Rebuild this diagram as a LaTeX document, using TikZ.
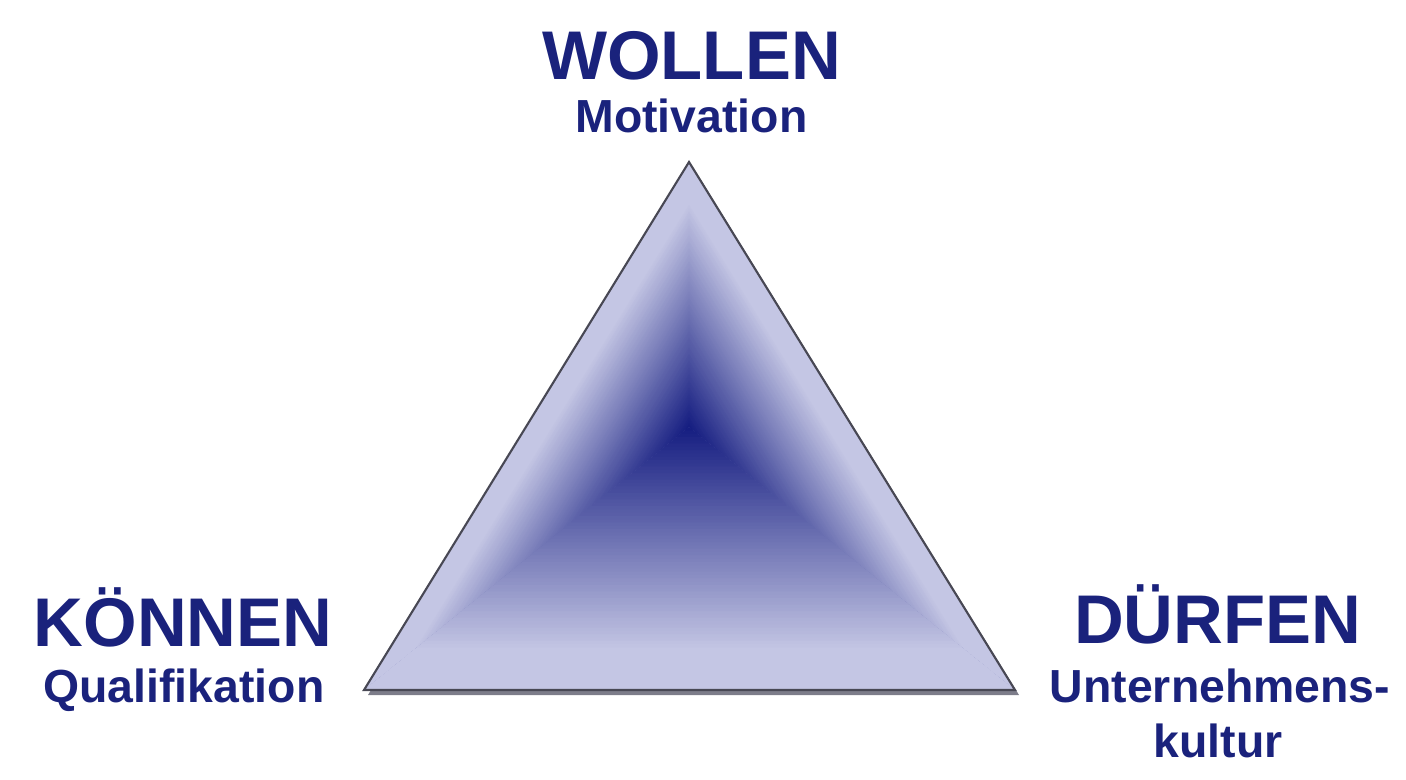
\documentclass[tikz,border=0pt]{standalone}
\usepackage{fontspec}
\setmainfont{Liberation Sans}
\usetikzlibrary{calc}

\definecolor{ink}{RGB}{26,34,124}
\definecolor{pale}{RGB}{196,198,228}
\definecolor{deep}{RGB}{20,28,128}
\definecolor{rim}{RGB}{72,72,84}
\definecolor{dropshade}{RGB}{125,125,138}

% one face of the pyramid: outer corners #1, #2, centre #3,
% filled in thin bands that darken towards the centre
\newcommand\facefill[3]{%
  \foreach \i in {0,...,79}{%
    \pgfmathsetmacro\sa{\i/80}%
    \pgfmathsetmacro\sb{min(1,(\i+1.5)/80)}%
    \pgfmathtruncatemacro\mix{100*max(0,min(1,((\i+0.5)/80-0.15)/0.85))}%
    \fill[deep!\mix!pale] ($(#1)!\sa!(#3)$) -- ($(#2)!\sa!(#3)$)
      -- ($(#2)!\sb!(#3)$) -- ($(#1)!\sb!(#3)$) -- cycle;
  }}

\begin{document}
\begin{tikzpicture}[
    title/.style={text=ink, font=\fontsize{19.6}{23}\selectfont\bfseries,
        anchor=base, inner sep=0pt},
    subtitle/.style={text=ink, font=\fontsize{13.2}{16}\selectfont\bfseries,
        anchor=base, inner sep=0pt},
    ]
    \useasboundingbox (0,0) rectangle (14.06,7.79);

    \coordinate (top) at (6.89,6.17);
    \coordinate (left) at (3.64,0.89);
    \coordinate (right) at (10.15,0.89);
    \coordinate (core) at (6.89,3.52);

    % shadow and base colour
    \fill[dropshade] ($(top)+(0.04,-0.05)$) -- ($(left)+(0.04,-0.05)$)
        -- ($(right)+(0.04,-0.05)$) -- cycle;
    \fill[pale!45!deep] (top) -- (left) -- (right) -- cycle;

    % the three faces
    \facefill{left}{top}{core}
    \facefill{top}{right}{core}
    \facefill{left}{right}{core}

    \draw[rim, line width=0.6pt] (top) -- (left) -- (right) -- cycle;

    % labels at the corners
    \node[title] (wollen) at (6.915,6.99) {WOLLEN};
    \node[subtitle] (motivation) at (6.915,6.46) {Motivation};

    \node[title] (koennen) at (1.83,1.33) {KÖNNEN};
    \node[subtitle] (quali) at (1.84,0.77) {Qualifikation};

    \node[title] (duerfen) at (12.175,1.36) {DÜRFEN};
    \node[subtitle] (kultur1) at (12.20,0.77) {Unternehmens-};
    \node[subtitle] (kultur2) at (12.18,0.22) {kultur};
\end{tikzpicture}
\end{document}
